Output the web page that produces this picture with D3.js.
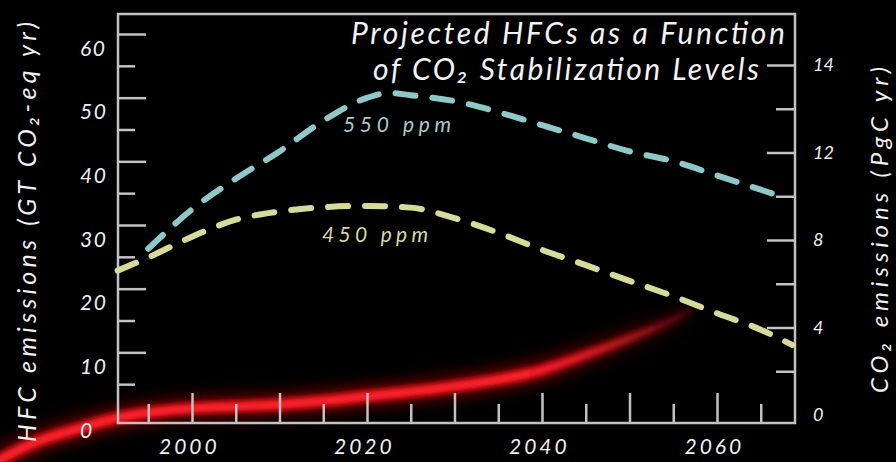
<!DOCTYPE html>
<html>
<head>
<meta charset="utf-8">
<script src="https://cdn.jsdelivr.net/npm/d3@7"></script>
<style>
  body { margin: 0; background: #000; }
  svg { display: block; }
  text { font-family: Lato, "Open Sans", sans-serif; font-style: italic; }
</style>
</head>
<body>
<svg id="chart" width="896" height="462"></svg>
<script>
// HFC emissions (left axis, GT CO2-eq / yr)
const hfcYears  = [1978, 1982, 1987, 1991.5, 1995, 2000, 2005, 2010, 2015, 2020, 2025, 2030, 2035, 2040, 2045, 2050, 2055, 2057];
const hfcValues = [-6.9, -4.2, -2.0, -0.3, 0.5, 1.2, 1.5, 1.8, 2.35, 3.1, 3.8, 4.65, 5.7, 7.2, 9.6, 12.2, 15.1, 16.5];

// CO2 stabilization paths (right axis, PgC / yr)
const ppm550Years  = [1995, 2000, 2005, 2010, 2015, 2020, 2022.5, 2025, 2030, 2035, 2040, 2045, 2050, 2055, 2060, 2065, 2068];
const ppm550Values = [7.6, 9.4, 10.8, 12.05, 13.45, 14.5, 14.72, 14.62, 14.35, 13.85, 13.25, 12.65, 12.05, 11.6, 10.95, 10.3, 9.9];

const ppm450Years  = [1991.5, 1995, 2000, 2005, 2010, 2015, 2020, 2025, 2030, 2035, 2040, 2045, 2050, 2055, 2060, 2065, 2068.6];
const ppm450Values = [6.6, 7.2, 8.15, 8.93, 9.3, 9.5, 9.56, 9.48, 9.0, 8.33, 7.55, 6.85, 6.13, 5.43, 4.65, 3.9, 3.2];

// ticks
const xMajorYears = [2000, 2010, 2020, 2030, 2040, 2050, 2060];
const xMinorYears = [1995, 2005, 2015, 2025, 2035, 2045, 2055, 2065];
const xLabelYears = [2000, 2020, 2040, 2060];
const leftMajor   = [0, 10, 20, 30, 40, 50, 60];
const leftMinor   = [5, 15, 25, 35, 45, 55];
const rightMajor  = [0, 4, 8, 12, 16];
const rightMinor  = [2, 6, 10, 14];
const rightLabels = ["0", "4", "8", "12", "14"];

const W = 896, H = 462;
const frame = { left: 118, right: 795, top: 14, bottom: 423 };
const frameColor = "#c2c2c2";

const x = d3.scaleLinear().domain([2000, 2060]).range([192, 717]);
const yLeft = d3.scaleLinear().domain([0, 60]).range([416, 34]);
const yRight = d3.scaleLinear().domain([0, 16]).range([415, 65]);

const zip = (ys, vs) => ys.map((yr, i) => ({ year: yr, v: vs[i] }));
const hfc = zip(hfcYears, hfcValues);
const p550 = zip(ppm550Years, ppm550Values);
const p450 = zip(ppm450Years, ppm450Values);

const svg = d3.select("#chart");
svg.append("rect").attr("width", W).attr("height", H).attr("fill", "#000");

const defs = svg.append("defs");
function blur(id, sd) {
    defs.append("filter").attr("id", id)
        .attr("x", "-20%").attr("y", "-60%").attr("width", "140%").attr("height", "220%")
        .append("feGaussianBlur").attr("stdDeviation", sd);
}
blur("glowWide", 7);
blur("glowMid", 2.6);
blur("glowCore", 1.5);

function fadeGradient(id, color) {
    let g = defs.append("linearGradient").attr("id", id)
        .attr("gradientUnits", "userSpaceOnUse")
        .attr("x1", x(2038)).attr("x2", x(2057)).attr("y1", 0).attr("y2", 0);
    g.append("stop").attr("offset", 0).attr("stop-color", color).attr("stop-opacity", 1);
    g.append("stop").attr("offset", 1).attr("stop-color", color).attr("stop-opacity", 0.1);
}
fadeGradient("redFade", "#e8121e");
fadeGradient("redCoreFade", "#ff2a36");
fadeGradient("redHaloFade", "#9a000a");

// red HFC glow
const hfcLine = d3.line().x(d => x(d.year)).y(d => yLeft(d.v)).curve(d3.curveMonotoneX);
const red = svg.append("g");
red.append("path").datum(hfc).attr("d", hfcLine)
    .attr("fill", "none").attr("stroke", "url(#redHaloFade)").attr("stroke-width", 24)
    .attr("stroke-opacity", 0.6).attr("filter", "url(#glowWide)");
red.append("path").datum(hfc).attr("d", hfcLine)
    .attr("fill", "none").attr("stroke", "url(#redFade)").attr("stroke-width", 12)
    .attr("stroke-linecap", "round").attr("filter", "url(#glowMid)");
red.append("path").datum(hfc).attr("d", hfcLine)
    .attr("fill", "none").attr("stroke", "url(#redCoreFade)").attr("stroke-width", 5)
    .attr("stroke-opacity", 0.6).attr("filter", "url(#glowCore)");

// axes
function styleAxis(g, fontSize) {
    g.attr("font-family", null).attr("font-size", fontSize);
    g.select(".domain").remove();
    g.selectAll(".tick line").attr("stroke", frameColor).attr("stroke-width", 2.5);
    g.selectAll(".tick text").attr("fill", "#f0f0f0");
    g.selectAll(".tick").filter(d => d === 0).select("line").remove();
}

svg.append("g").attr("transform", `translate(${frame.left},0)`)
    .call(d3.axisLeft(yLeft).tickValues(leftMinor).tickSize(-17).tickFormat(""))
    .call(g => styleAxis(g, 21));
svg.append("g").attr("transform", `translate(${frame.left},0)`)
    .call(d3.axisLeft(yLeft).tickValues(leftMajor).tickSize(-28).tickPadding(38))
    .call(g => styleAxis(g, 21))
    .call(g => g.selectAll(".tick text").attr("text-anchor", "start").attr("x", -38)
        .attr("dy", "1.0em").attr("letter-spacing", 1.5));

svg.append("g").attr("transform", `translate(0,${frame.bottom})`)
    .call(d3.axisBottom(x).tickValues(xMinorYears).tickSize(-19).tickFormat(""))
    .call(g => styleAxis(g, 21));
svg.append("g").attr("transform", `translate(0,${frame.bottom})`)
    .call(d3.axisBottom(x).tickValues(xMajorYears).tickSize(-30).tickPadding(16)
        .tickFormat(d => xLabelYears.includes(d) ? d : ""))
    .call(g => styleAxis(g, 21))
    .call(g => g.selectAll(".tick text").attr("letter-spacing", 3).attr("dx", "-0.15em"));

svg.append("g").attr("transform", `translate(${frame.right},0)`)
    .call(d3.axisRight(yRight).tickValues(rightMinor).tickSize(-19).tickFormat(""))
    .call(g => styleAxis(g, 18));
svg.append("g").attr("transform", `translate(${frame.right},0)`)
    .call(d3.axisRight(yRight).tickValues(rightMajor).tickSize(-28).tickPadding(18)
        .tickFormat((d, i) => rightLabels[i]))
    .call(g => styleAxis(g, 18));

// frame
svg.append("rect")
    .attr("x", frame.left).attr("y", frame.top)
    .attr("width", frame.right - frame.left).attr("height", frame.bottom - frame.top)
    .attr("fill", "none").attr("stroke", frameColor).attr("stroke-width", 2.5);

// dashed scenario lines
const co2Line = d3.line().x(d => x(d.year)).y(d => yRight(d.v)).curve(d3.curveMonotoneX);
svg.append("path").datum(p550).attr("d", co2Line)
    .attr("fill", "none").attr("stroke", "#8ec8c8").attr("stroke-width", 6)
    .attr("stroke-linecap", "round").attr("stroke-dasharray", "20 17");
svg.append("path").datum(p450).attr("d", co2Line)
    .attr("fill", "none").attr("stroke", "#d6db9a").attr("stroke-width", 6)
    .attr("stroke-linecap", "round").attr("stroke-dasharray", "20 17");

// texts
svg.append("text").attr("x", 343).attr("y", 132)
    .attr("font-size", 21).attr("fill", "#a6cccc").attr("textLength", 108)
    .text("550 ppm");
svg.append("text").attr("x", 322).attr("y", 242)
    .attr("font-size", 21).attr("fill", "#d8d9a2").attr("textLength", 106)
    .text("450 ppm");

svg.append("text").attr("x", 568).attr("y", 44).attr("text-anchor", "middle")
    .attr("font-size", 30).attr("fill", "#f2f2f2").attr("textLength", 434)
    .text("Projected HFCs as a Function");
svg.append("text").attr("x", 566).attr("y", 80).attr("text-anchor", "middle")
    .attr("font-size", 30).attr("fill", "#f2f2f2").attr("textLength", 386)
    .text("of CO₂ Stabilization Levels");

svg.append("text").attr("transform", "translate(36,232) rotate(-90)")
    .attr("text-anchor", "middle").attr("font-size", 25).attr("fill", "#f0f0f0")
    .attr("textLength", 420)
    .text("HFC emissions (GT CO₂-eq yr)");
svg.append("text").attr("transform", "translate(888,230) rotate(-90)")
    .attr("text-anchor", "middle").attr("font-size", 24).attr("fill", "#f0f0f0")
    .attr("textLength", 326)
    .text("CO₂ emissions (PgC yr)");
</script>
</body>
</html>
